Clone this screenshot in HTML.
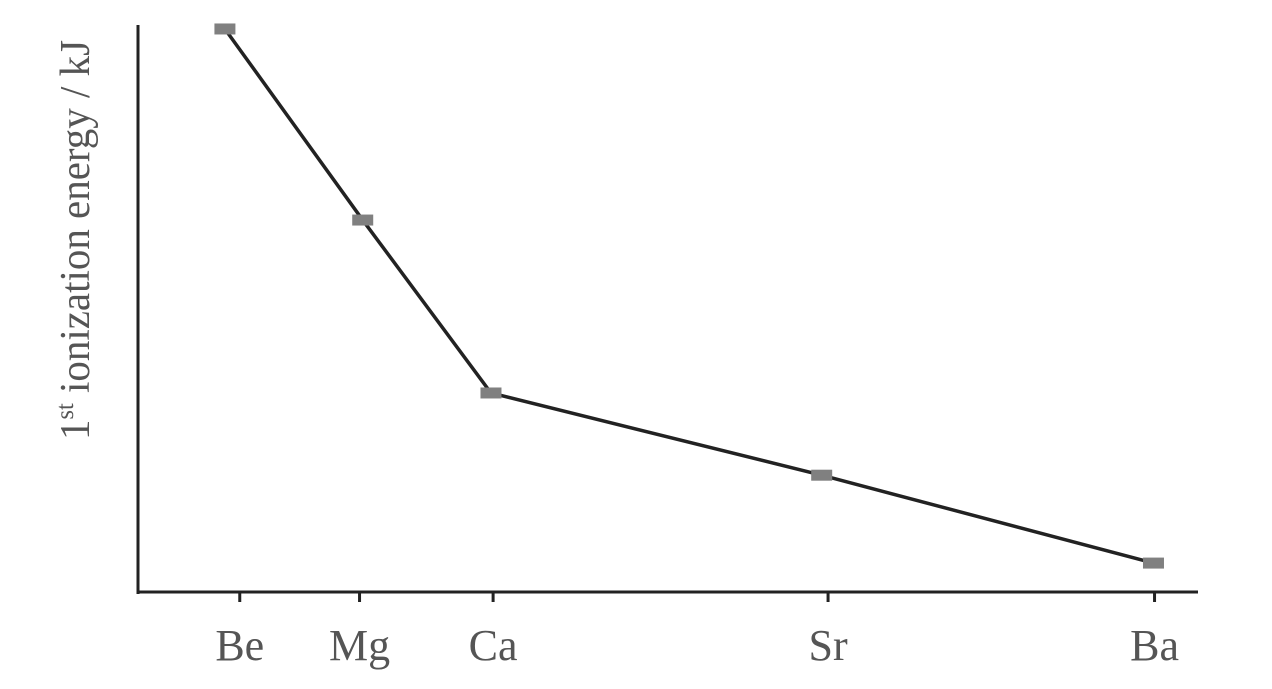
<!DOCTYPE html>
<html><head><meta charset="utf-8"><style>
html,body{margin:0;padding:0;background:#fff;}
svg{display:block;}
text{font-family:"Liberation Serif",serif;fill:#555;}
</style></head><body>
<svg id="chart" width="1272" height="689" viewBox="0 0 1272 689">
<g id="axes"></g>
<g id="series"></g>
<text transform="translate(89,240) rotate(-90)" text-anchor="middle" font-size="42" textLength="400" lengthAdjust="spacingAndGlyphs">1<tspan font-size="25" dy="-16">st</tspan><tspan dy="16"> ionization energy / kJ</tspan></text>
</svg>
<script>
const categories = ["Be","Mg","Ca","Sr","Ba"];
const markerX = [8.2, 21.2, 33.3, 64.5, 95.8];
const tickX = [9.6, 20.9, 33.5, 65.1, 95.9];
const values = [99.3, 65.6, 35.1, 20.6, 5.1];

const NS="http://www.w3.org/2000/svg";
function xs(v){return 138 + v*10.6;}
function ys(v){return 592 - v*5.67;}
function mk(tag,attrs,parent){const e=document.createElementNS(NS,tag);for(const k in attrs)e.setAttribute(k,attrs[k]);parent.appendChild(e);return e;}
const axes=document.getElementById('axes'), series=document.getElementById('series');

let yAxis=mk('line',{x1:138,y1:25,x2:138,y2:594,stroke:'#222','stroke-width':3},axes);


let xAxis=mk('line',{x1:136.5,y1:592,x2:1198,y2:592,stroke:'#222','stroke-width':3},axes);



categories.forEach((c,i)=>{
  const tx=xs(tickX[i]);
  const t=mk('line',{x1:tx,y1:592,x2:tx,y2:602,stroke:'#222','stroke-width':3},axes);
  
  
  const l=mk('text',{x:tx,y:660,'text-anchor':'middle','font-size':44},axes);
  l.textContent=c;
  
  
});

const pts=values.map((v,i)=>xs(markerX[i])+','+ys(v)).join(' ');
const line=mk('polyline',{points:pts,fill:'none',stroke:'#222','stroke-width':3.5},series);



values.forEach((v,i)=>{
  const r=mk('rect',{x:xs(markerX[i])-10.5,y:ys(v)-5.5,width:21,height:11,fill:'#808080'},series);
  
  
});
</script>
</body></html>
